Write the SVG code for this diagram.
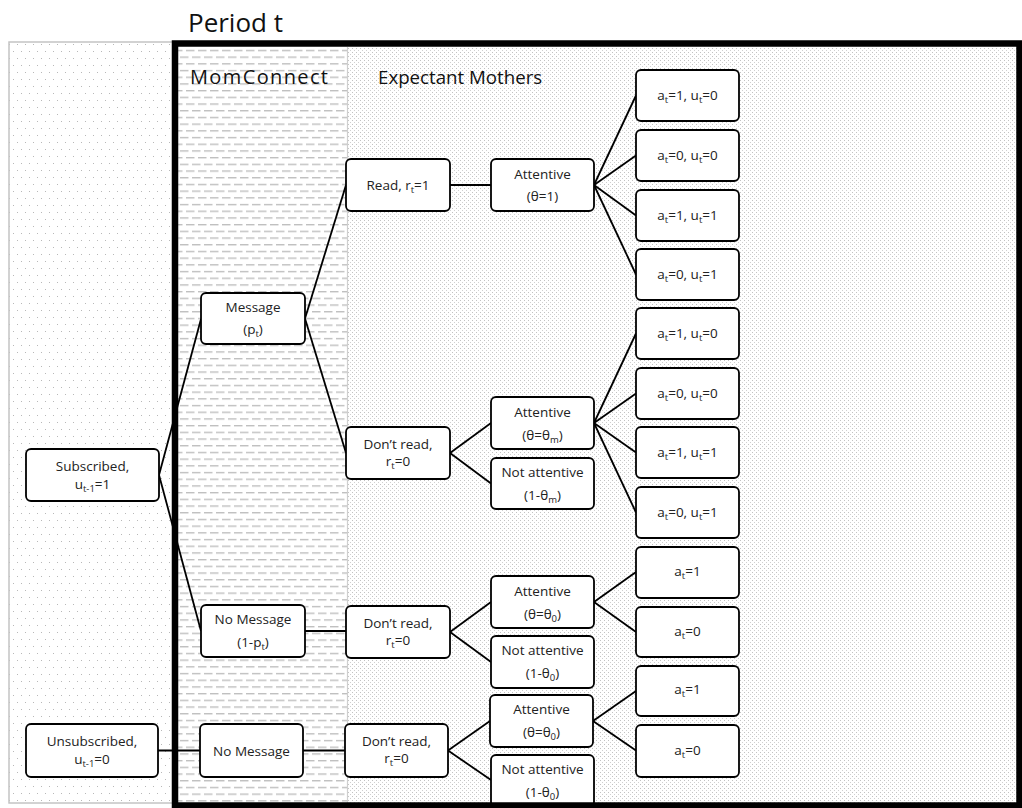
<svg xmlns="http://www.w3.org/2000/svg" width="1022" height="808" viewBox="0 0 1022 808">
<defs>
<pattern id="pL" width="8" height="14" patternUnits="userSpaceOnUse">
<rect x="1" y="2" width="1" height="1" fill="#b8b8b8"/>
<rect x="5" y="9" width="1" height="1" fill="#b8b8b8"/>
</pattern>
<pattern id="pM" width="12" height="13.4" patternUnits="userSpaceOnUse">
<rect x="0" y="3" width="8.5" height="1.2" fill="#b4b4b4"/>
<rect x="6" y="9.7" width="6" height="1.2" fill="#b4b4b4"/>
<rect x="0" y="9.7" width="2.5" height="1.2" fill="#b4b4b4"/>
</pattern>
<pattern id="pE" width="4" height="4" patternUnits="userSpaceOnUse">
<rect x="0" y="0" width="1" height="1" fill="#c2c2c2"/>
<rect x="2" y="2" width="1" height="1" fill="#d0d0d0"/>
</pattern>
<style>
.n{fill:#fff;stroke:#000;stroke-width:1.8}
.t{font-family:"Open Sans","Liberation Sans",sans-serif;font-size:13.5px;fill:#222;text-anchor:middle}
.s{font-size:9.5px}
.c line{stroke:#000;stroke-width:1.8}
.h{font-family:"Open Sans","Liberation Sans",sans-serif;fill:#111}
</style>
</defs>
<rect x="0" y="0" width="1022" height="808" fill="#fff"/>
<g id="panels">
<rect x="9" y="42" width="166" height="761" fill="url(#pL)" stroke="#c4c4c4" stroke-width="1.5"/>
<rect x="178" y="47" width="169.5" height="756" fill="url(#pM)"/>
<rect x="347.5" y="47" width="670" height="756" fill="url(#pE)"/>
<line x1="347.5" y1="47" x2="347.5" y2="803" stroke="#cfcfcf" stroke-width="1.2"/>
</g>
<g id="connectors" class="c">
<line x1="159" y1="475" x2="201" y2="319"/>
<line x1="159" y1="475" x2="201" y2="631"/>
<line x1="158" y1="750.5" x2="200" y2="750.5"/>
<line x1="305" y1="318.5" x2="346" y2="185"/>
<line x1="305" y1="318.5" x2="346" y2="453"/>
<line x1="305" y1="631" x2="346" y2="631"/>
<line x1="303" y1="750.5" x2="345" y2="750.5"/>
<line x1="450" y1="185" x2="491" y2="185"/>
<line x1="594" y1="185" x2="636" y2="95.5"/>
<line x1="594" y1="185" x2="636" y2="155.5"/>
<line x1="594" y1="185" x2="636" y2="215.5"/>
<line x1="594" y1="185" x2="636" y2="274.5"/>
<line x1="450" y1="453" x2="491" y2="423"/>
<line x1="450" y1="453" x2="491" y2="483.5"/>
<line x1="594" y1="423" x2="636" y2="333.5"/>
<line x1="594" y1="423" x2="636" y2="393.5"/>
<line x1="594" y1="423" x2="636" y2="452.5"/>
<line x1="594" y1="423" x2="636" y2="512.5"/>
<line x1="450" y1="632" x2="491" y2="602"/>
<line x1="450" y1="632" x2="491" y2="662"/>
<line x1="594" y1="602" x2="636" y2="572"/>
<line x1="594" y1="602" x2="636" y2="632"/>
<line x1="448" y1="750.5" x2="490" y2="721"/>
<line x1="448" y1="750.5" x2="491" y2="780"/>
<line x1="593" y1="721" x2="636" y2="691"/>
<line x1="593" y1="721" x2="636" y2="750.5"/>
</g>
<g id="sub"><rect class="n" x="26" y="449" width="133" height="52" rx="5"/><text class="t" x="92.5" y="471">Subscribed,</text><text class="t" x="92.5" y="489">u<tspan class="s" dy="3">t-1</tspan><tspan dy="-3">=1</tspan></text></g>
<g id="unsub"><rect class="n" x="26" y="724" width="132" height="53" rx="5"/><text class="t" x="92" y="746">Unsubscribed,</text><text class="t" x="92" y="764">u<tspan class="s" dy="3">t-1</tspan><tspan dy="-3">=0</tspan></text></g>
<g id="msg"><rect class="n" x="201" y="293" width="104" height="51" rx="5"/><text class="t" x="253" y="312">Message</text><text class="t" x="253" y="334">(p<tspan class="s" dy="3">t</tspan><tspan dy="-3">)</tspan></text></g>
<g id="nomsg1"><rect class="n" x="201" y="605" width="104" height="52" rx="5"/><text class="t" x="253" y="624">No Message</text><text class="t" x="253" y="647">(1-p<tspan class="s" dy="3">t</tspan><tspan dy="-3">)</tspan></text></g>
<g id="nomsg2"><rect class="n" x="200" y="724" width="103" height="53" rx="5"/><text class="t" x="251.5" y="756">No Message</text></g>
<g id="read"><rect class="n" x="346" y="159" width="104" height="52" rx="5"/><text class="t" x="398" y="190">Read, r<tspan class="s" dy="3">t</tspan><tspan dy="-3">=1</tspan></text></g>
<g id="dr1"><rect class="n" x="346" y="427" width="104" height="52" rx="5"/><text class="t" x="398" y="449">Don’t read,</text><text class="t" x="398" y="466">r<tspan class="s" dy="3">t</tspan><tspan dy="-3">=0</tspan></text></g>
<g id="dr2"><rect class="n" x="346" y="606" width="104" height="52" rx="5"/><text class="t" x="398" y="628">Don’t read,</text><text class="t" x="398" y="645">r<tspan class="s" dy="3">t</tspan><tspan dy="-3">=0</tspan></text></g>
<g id="dr3"><rect class="n" x="345" y="724" width="103" height="53" rx="5"/><text class="t" x="396.5" y="746">Don’t read,</text><text class="t" x="396.5" y="763">r<tspan class="s" dy="3">t</tspan><tspan dy="-3">=0</tspan></text></g>
<g id="att1"><rect class="n" x="491" y="159" width="103" height="52" rx="5"/><text class="t" x="542.5" y="179">Attentive</text><text class="t" x="542.5" y="201">(θ=1)</text></g>
<g id="att2"><rect class="n" x="491" y="397" width="103" height="52" rx="5"/><text class="t" x="542.5" y="417">Attentive</text><text class="t" x="542.5" y="440">(θ=θ<tspan class="s" dy="3">m</tspan><tspan dy="-3">)</tspan></text></g>
<g id="na2"><rect class="n" x="491" y="458" width="103" height="51" rx="5"/><text class="t" x="542.5" y="477">Not attentive</text><text class="t" x="542.5" y="500">(1-θ<tspan class="s" dy="3">m</tspan><tspan dy="-3">)</tspan></text></g>
<g id="att3"><rect class="n" x="491" y="576" width="103" height="52" rx="5"/><text class="t" x="542.5" y="596">Attentive</text><text class="t" x="542.5" y="619">(θ=θ<tspan class="s" dy="3">0</tspan><tspan dy="-3">)</tspan></text></g>
<g id="na3"><rect class="n" x="491" y="636" width="103" height="52" rx="5"/><text class="t" x="542.5" y="655">Not attentive</text><text class="t" x="542.5" y="678">(1-θ<tspan class="s" dy="3">0</tspan><tspan dy="-3">)</tspan></text></g>
<g id="att4"><rect class="n" x="490" y="695" width="103" height="52" rx="5"/><text class="t" x="541.5" y="714">Attentive</text><text class="t" x="541.5" y="737">(θ=θ<tspan class="s" dy="3">0</tspan><tspan dy="-3">)</tspan></text></g>
<g id="na4"><rect class="n" x="491" y="755" width="103" height="52" rx="5"/><text class="t" x="542.5" y="774">Not attentive</text><text class="t" x="542.5" y="797">(1-θ<tspan class="s" dy="3">0</tspan><tspan dy="-3">)</tspan></text></g>
<g id="l1"><rect class="n" x="636" y="70" width="103" height="51" rx="5"/><text class="t" x="687.5" y="100">a<tspan class="s" dy="3">t</tspan><tspan dy="-3">=1, u</tspan><tspan class="s" dy="3">t</tspan><tspan dy="-3">=0</tspan></text></g>
<g id="l2"><rect class="n" x="636" y="130" width="103" height="51" rx="5"/><text class="t" x="687.5" y="160">a<tspan class="s" dy="3">t</tspan><tspan dy="-3">=0, u</tspan><tspan class="s" dy="3">t</tspan><tspan dy="-3">=0</tspan></text></g>
<g id="l3"><rect class="n" x="636" y="190" width="103" height="51" rx="5"/><text class="t" x="687.5" y="220">a<tspan class="s" dy="3">t</tspan><tspan dy="-3">=1, u</tspan><tspan class="s" dy="3">t</tspan><tspan dy="-3">=1</tspan></text></g>
<g id="l4"><rect class="n" x="636" y="249" width="103" height="51" rx="5"/><text class="t" x="687.5" y="279">a<tspan class="s" dy="3">t</tspan><tspan dy="-3">=0, u</tspan><tspan class="s" dy="3">t</tspan><tspan dy="-3">=1</tspan></text></g>
<g id="l5"><rect class="n" x="636" y="308" width="103" height="51" rx="5"/><text class="t" x="687.5" y="338">a<tspan class="s" dy="3">t</tspan><tspan dy="-3">=1, u</tspan><tspan class="s" dy="3">t</tspan><tspan dy="-3">=0</tspan></text></g>
<g id="l6"><rect class="n" x="636" y="368" width="103" height="51" rx="5"/><text class="t" x="687.5" y="398">a<tspan class="s" dy="3">t</tspan><tspan dy="-3">=0, u</tspan><tspan class="s" dy="3">t</tspan><tspan dy="-3">=0</tspan></text></g>
<g id="l7"><rect class="n" x="636" y="427" width="103" height="51" rx="5"/><text class="t" x="687.5" y="457">a<tspan class="s" dy="3">t</tspan><tspan dy="-3">=1, u</tspan><tspan class="s" dy="3">t</tspan><tspan dy="-3">=1</tspan></text></g>
<g id="l8"><rect class="n" x="636" y="487" width="103" height="51" rx="5"/><text class="t" x="687.5" y="517">a<tspan class="s" dy="3">t</tspan><tspan dy="-3">=0, u</tspan><tspan class="s" dy="3">t</tspan><tspan dy="-3">=1</tspan></text></g>
<g id="l9"><rect class="n" x="636" y="547" width="103" height="51" rx="5"/><text class="t" x="687.5" y="576">a<tspan class="s" dy="3">t</tspan><tspan dy="-3">=1</tspan></text></g>
<g id="l10"><rect class="n" x="636" y="607" width="103" height="50" rx="5"/><text class="t" x="687.5" y="636">a<tspan class="s" dy="3">t</tspan><tspan dy="-3">=0</tspan></text></g>
<g id="l11"><rect class="n" x="636" y="666" width="103" height="50" rx="5"/><text class="t" x="687.5" y="694">a<tspan class="s" dy="3">t</tspan><tspan dy="-3">=1</tspan></text></g>
<g id="l12"><rect class="n" x="636" y="725" width="103" height="52" rx="5"/><text class="t" x="687.5" y="755">a<tspan class="s" dy="3">t</tspan><tspan dy="-3">=0</tspan></text></g>
<rect id="frame" x="175" y="43.5" width="844.5" height="762" fill="none" stroke="#000" stroke-width="6.5"/>
<g id="labels">
<text class="h" x="188" y="32" font-size="26">Period t</text>
<text class="h" x="190" y="84" font-size="20" textLength="138" lengthAdjust="spacing">MomConnect</text>
<text class="h" x="378" y="84" font-size="18.7">Expectant Mothers</text>
</g>
</svg>
